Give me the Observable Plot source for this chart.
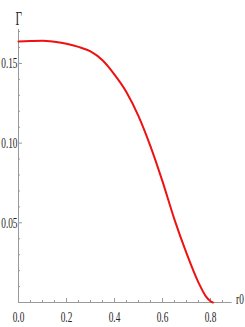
<!DOCTYPE html>
<html><head><meta charset="utf-8">
<script src="https://cdn.jsdelivr.net/npm/d3@7"></script>
<script src="https://cdn.jsdelivr.net/npm/@observablehq/plot@0.6"></script>
<style>
body{margin:0;background:#fff}
svg text{font-family:"Liberation Serif",serif}
</style>
</head><body><div id="chart"></div>
<script>
const r0 = [0, 0.05, 0.1, 0.15, 0.2, 0.25, 0.3, 0.35, 0.4, 0.45, 0.5, 0.55, 0.6, 0.65, 0.7, 0.75, 0.78, 0.8, 0.81];
const gamma = [0.1638, 0.1641, 0.1643, 0.1636, 0.1624, 0.1604, 0.1575, 0.152, 0.143, 0.132, 0.117, 0.098, 0.076, 0.052, 0.031, 0.0125, 0.004, 0.0008, 0];
const xMajor = [0, 0.2, 0.4, 0.6, 0.8];
const xMinor = [0.05, 0.1, 0.15, 0.25, 0.3, 0.35, 0.45, 0.5, 0.55, 0.65, 0.7, 0.75, 0.85];
const yMajor = [0.05, 0.10, 0.15];
const yMinor = [0.01, 0.02, 0.03, 0.04, 0.06, 0.07, 0.08, 0.09, 0.11, 0.12, 0.13, 0.14, 0.16, 0.17];

const data = r0.map((x, i) => ({x, y: gamma[i]}));
const W = 245, H = 327, mL = 18, mR = 13.4, mT = 29, mB = 25;
const pw = W - mL - mR, ph = H - mT - mB;
const grey = "#999";
const serif = "'Liberation Serif', serif";
const plot = Plot.plot({
  width: W, height: H,
  marginLeft: mL, marginRight: mR, marginTop: mT, marginBottom: mB,
  style: {fontFamily: serif, fontSize: "15px", color: "#222", background: "#fff", overflow: "visible"},
  x: {domain: [0, 0.89]},
  y: {domain: [0, 0.1713]},
  marks: [
    Plot.ruleY([0], {stroke: grey}),
    Plot.ruleX([0], {stroke: grey}),
    Plot.tickX(xMajor, {x: d => d, stroke: grey, insetTop: ph - 4}),
    Plot.tickX(xMinor, {x: d => d, stroke: grey, insetTop: ph - 2}),
    Plot.tickY(yMajor, {y: d => d, stroke: grey, insetRight: pw - 4}),
    Plot.tickY(yMinor, {y: d => d, stroke: grey, insetRight: pw - 2}),
    Plot.axisX(xMajor, {label: null, tickSize: 0, tickPadding: 9, tickFormat: d3.format(".1f"), fontSize: 15, fill: "#222", fontFamily: serif}),
    Plot.axisY(yMajor, {label: null, tickSize: 0, tickPadding: 1, tickFormat: d3.format(".2f"), fontSize: 15, fill: "#222", fontFamily: serif}),
    Plot.line(data, {x: "x", y: "y", stroke: "#ee1111", strokeWidth: 2, curve: "monotone-x"}),
    Plot.text(["Γ"], {frameAnchor: "top-left", dx: -3, dy: -17, text: d => d, fontSize: 18, textAnchor: "start", fill: "#222", fontFamily: serif}),
    Plot.text(["r0"], {frameAnchor: "bottom-right", dx: 4, dy: 1, text: d => d, fontSize: 15, textAnchor: "start", fill: "#222", fontFamily: serif})
  ]
});
document.getElementById("chart").append(plot);
d3.select(plot).selectAll("text").each(function() {
  const t = this;
  let tr = t.getAttribute("transform");
  if (!tr) {
    const x = t.getAttribute("x") || 0, y = t.getAttribute("y") || 0;
    t.removeAttribute("x"); t.removeAttribute("y");
    tr = `translate(${x},${y})`;
  }
  t.setAttribute("transform", tr + " scale(0.62,1)");
});
</script>
</body></html>
